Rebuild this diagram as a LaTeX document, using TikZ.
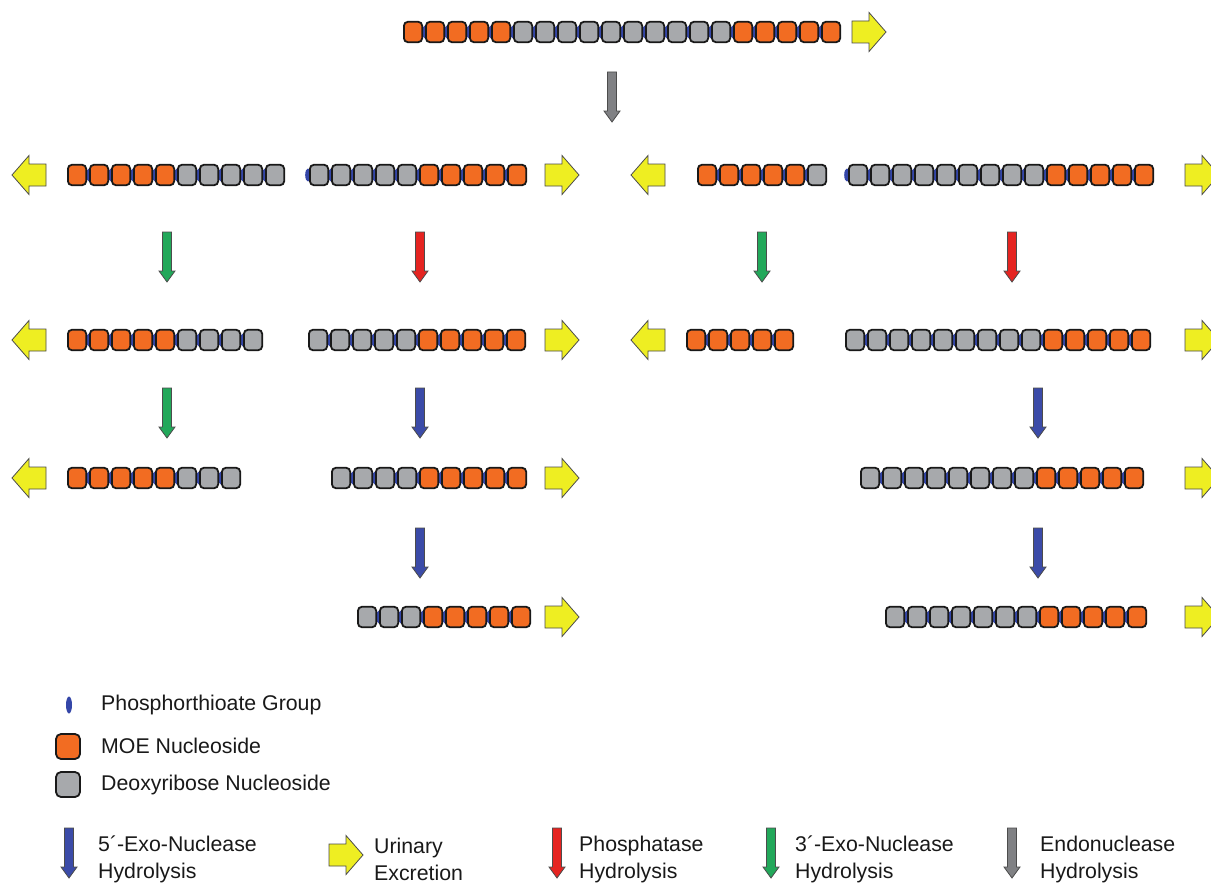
\documentclass[tikz,border=0pt]{standalone}
\usepackage{fontspec}
\setmainfont{Liberation Sans}
\usepackage{tikz}
\usetikzlibrary{positioning}

\definecolor{moe}{HTML}{F26C22}
\definecolor{dna}{HTML}{A7A9AC}
\definecolor{ptoblue}{HTML}{3446A8}
\definecolor{urineyellow}{HTML}{EEEE22}
\definecolor{exoblue}{HTML}{3B4BA8}
\definecolor{phosred}{HTML}{E52421}
\definecolor{exogreen}{HTML}{22A85A}
\definecolor{endogrey}{HTML}{808184}

\tikzset{
    bead/.style={draw=black!90, line width=1.8pt, rounded corners=4pt},
    pto/.style={fill=ptoblue},
    legend/.style={anchor=west, inner sep=0pt, align=left, text=black!90,
        font=\fontsize{21.3}{27}\selectfont},
    pics/urine/.style={code={
        \draw[draw=black!70, line width=0.8pt, fill=urineyellow]
            (-17,-11) -- (0,-11) -- (0,-19.5) -- (17,0) -- (0,19.5) -- (0,11) -- (-17,11) -- cycle;
    }},
    pics/enzyme/.style={code={
        \draw[draw=black!70, line width=0.8pt, fill=#1]
            (-4.5,-25) -- (4.5,-25) -- (4.5,14) -- (8,14) -- (0,25) -- (-8,14) -- (-4.5,14) -- cycle;
    }}
}

\begin{document}
\begin{tikzpicture}[x=1pt, y=-1pt]
    \useasboundingbox (0,0) rectangle (1211,883);
    \fill[white] (0,0) rectangle (1211,883);

    % Strand: left edge, centre y, 5'-MOE, DNA, 3'-MOE
    \def\oligo#1#2#3#4#5{%
        \pgfmathtruncatemacro\nbead{#3+#4+#5}
        \foreach \i in {2,...,\nbead}
            \fill[pto] ({#1+(\i-1)*22},#2) ellipse (2.8 and 6.5);
        \foreach \i in {1,...,\nbead} {
            \ifnum\i>#3\relax
                \ifnum\i>\numexpr#3+#4\relax \def\bc{moe}\else \def\bc{dna}\fi
            \else \def\bc{moe}\fi
            \draw[bead, fill=\bc] ({#1+(\i-1)*22+0.9},{#2-10.2}) rectangle ({#1+(\i-1)*22+19.2},{#2+10.2});
        }
    }

    % Parent strand
    \oligo{403}{32}{5}{10}{5}
    \pic at (869,32) {urine};
    \pic at (612,97) {enzyme=endogrey};

    % Endonuclease fragments
    \fill[pto] (308,175) ellipse (2.8 and 6.5);
    \fill[pto] (847,175) ellipse (2.8 and 6.5);
    \oligo{309}{175}{0}{5}{5}
    \oligo{67}{175}{5}{5}{0}
    \oligo{697}{175}{5}{1}{0}
    \oligo{848}{175}{0}{9}{5}

    % Second step
    \oligo{67}{340}{5}{4}{0}
    \oligo{308}{340}{0}{5}{5}
    \oligo{686}{340}{5}{0}{0}
    \oligo{845}{340}{0}{9}{5}

    % Third step
    \oligo{67}{478}{5}{3}{0}
    \oligo{331}{478}{0}{4}{5}
    \oligo{860}{478}{0}{8}{5}

    % Fourth step
    \oligo{357}{617}{0}{3}{5}
    \oligo{885}{617}{0}{7}{5}

    % Urinary excretion
    \foreach \y in {175,340,478} \pic[rotate=180] at (29,\y) {urine};
    \foreach \y in {175,340} \pic[rotate=180] at (648,\y) {urine};
    \foreach \y in {175,340,478,617} {
        \pic at (562,\y) {urine};
        \pic at (1202,\y) {urine};
    }

    % Enzymatic steps
    \pic at (167,257) {enzyme=exogreen};
    \pic at (420,257) {enzyme=phosred};
    \pic at (762,257) {enzyme=exogreen};
    \pic at (1012,257) {enzyme=phosred};
    \pic at (167,413) {enzyme=exogreen};
    \pic at (420,413) {enzyme=exoblue};
    \pic at (1038,413) {enzyme=exoblue};
    \pic at (420,553) {enzyme=exoblue};
    \pic at (1038,553) {enzyme=exoblue};

    % Legend
    \fill[pto] (69,705) ellipse (3 and 8.5);
    \draw[bead, rounded corners=5pt, fill=moe] (56,734) rectangle (80,759);
    \draw[bead, rounded corners=5pt, fill=dna] (56,772) rectangle (80,797);
    \node[legend] (lgpto) at (101,705) {Phosphorthioate Group};
    \node[legend] (lgmoe) at (101,746) {MOE Nucleoside};
    \node[legend] (lgdna) at (101,785) {Deoxyribose Nucleoside};

    \pic at (69,853) {enzyme=exoblue};
    \pic at (346,855) {urine};
    \pic at (557,853) {enzyme=phosred};
    \pic at (771,853) {enzyme=exogreen};
    \pic at (1012,853) {enzyme=endogrey};
    \node[legend] (lgexofive) at (98,859) {5´-Exo-Nuclease\\Hydrolysis};
    \node[legend] (lgurine) at (374,859) {Urinary\\Excretion};
    \node[legend] (lgphos) at (579,859) {Phosphatase\\Hydrolysis};
    \node[legend] (lgexothree) at (795,859) {3´-Exo-Nuclease\\Hydrolysis};
    \node[legend] (lgendo) at (1040,859) {Endonuclease\\Hydrolysis};

\end{tikzpicture}
\end{document}
